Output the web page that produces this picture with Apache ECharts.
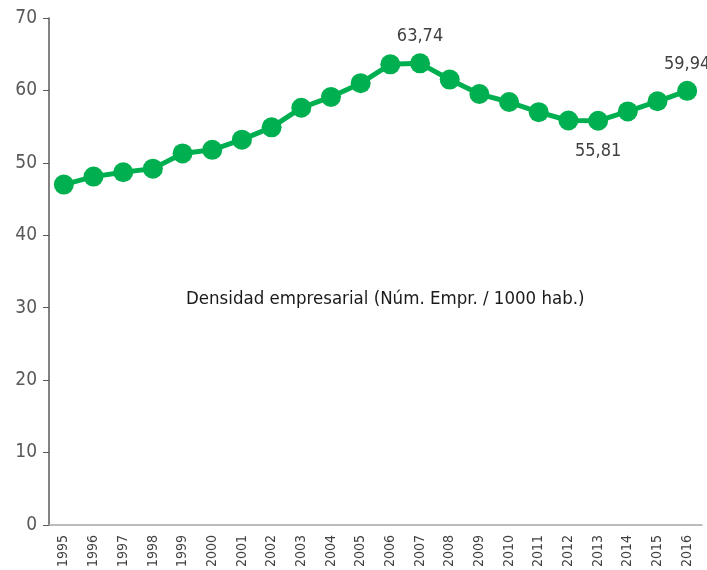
<!DOCTYPE html>
<html>
<head>
<meta charset="utf-8">
<script src="https://cdn.jsdelivr.net/npm/echarts@6/dist/echarts.min.js"></script>
<style>
    html, body { margin: 0; padding: 0; background: #fff; }
    #density_con { width: 707px; height: 570px; }
</style>
</head>
<body>
<div id="density_con"></div>
<script>
    // años y densidad empresarial (empresas por 1000 hab.)
    const years = ['1995', '1996', '1997', '1998', '1999', '2000', '2001', '2002', '2003', '2004', '2005',
        '2006', '2007', '2008', '2009', '2010', '2011', '2012', '2013', '2014', '2015', '2016'];
    const density = [47.0, 48.1, 48.7, 49.2, 51.3, 51.8, 53.2, 54.9, 57.6, 59.1, 61.0,
        63.6, 63.74, 61.5, 59.5, 58.4, 57.0, 55.85, 55.81, 57.1, 58.5, 59.94];
    // puntos con etiqueta y su posición
    const labelled = { '2007': 'top', '2013': 'bottom', '2016': 'top' };
    const yTicks = [0, 10, 20, 30, 40, 50, 60, 70];

    const font = '"DejaVu Sans Condensed", "Liberation Sans Narrow", sans-serif';

    const chart = echarts.init(document.getElementById('density_con'));

    const option = {
        animation: false,
        grid: {
            top: 18,
            left: 49,
            right: 5,
            bottom: 44
        },
        xAxis: {
            type: 'category',
            boundaryGap: true,
            data: years,
            axisLine: { lineStyle: { color: '#a6a6a6', width: 1.5 } },
            axisTick: { show: false },
            axisLabel: {
                rotate: 90,
                interval: 0,
                margin: 10,
                color: '#404040',
                fontFamily: font,
                fontSize: 14
            }
        },
        yAxis: {
            type: 'value',
            min: yTicks[0],
            max: yTicks[yTicks.length - 1],
            interval: 10,
            splitLine: { show: false },
            axisLine: { show: true, lineStyle: { color: '#595959', width: 1.5 } },
            axisTick: { show: true, length: 6, lineStyle: { color: '#595959' } },
            axisLabel: {
                margin: 12,
                color: '#595959',
                fontFamily: font,
                fontSize: 19
            }
        },
        graphic: [{
            type: 'text',
            left: 186,
            top: 290,
            style: {
                text: 'Densidad empresarial (Núm. Empr. / 1000 hab.)',
                fill: '#1a1a1a',
                font: '18.5px ' + font
            }
        }],
        series: [{
            type: 'line',
            data: density.map(function (v, i) {
                const pos = labelled[years[i]];
                if (!pos) {
                    return v;
                }
                return {
                    value: v,
                    label: { show: true, position: pos, distance: pos === 'top' ? 8 : 12 }
                };
            }),
            symbol: 'circle',
            symbolSize: 20,
            lineStyle: { color: '#00b050', width: 5 },
            itemStyle: { color: '#00b050' },
            label: {
                show: false,
                color: '#404040',
                fontFamily: font,
                fontSize: 18,
                formatter: function (p) {
                    return p.value.toFixed(2).replace('.', ',');
                }
            }
        }]
    };

    chart.setOption(option);

    window.addEventListener('resize', function () {
        chart.resize();
    });
</script>
</body>
</html>
